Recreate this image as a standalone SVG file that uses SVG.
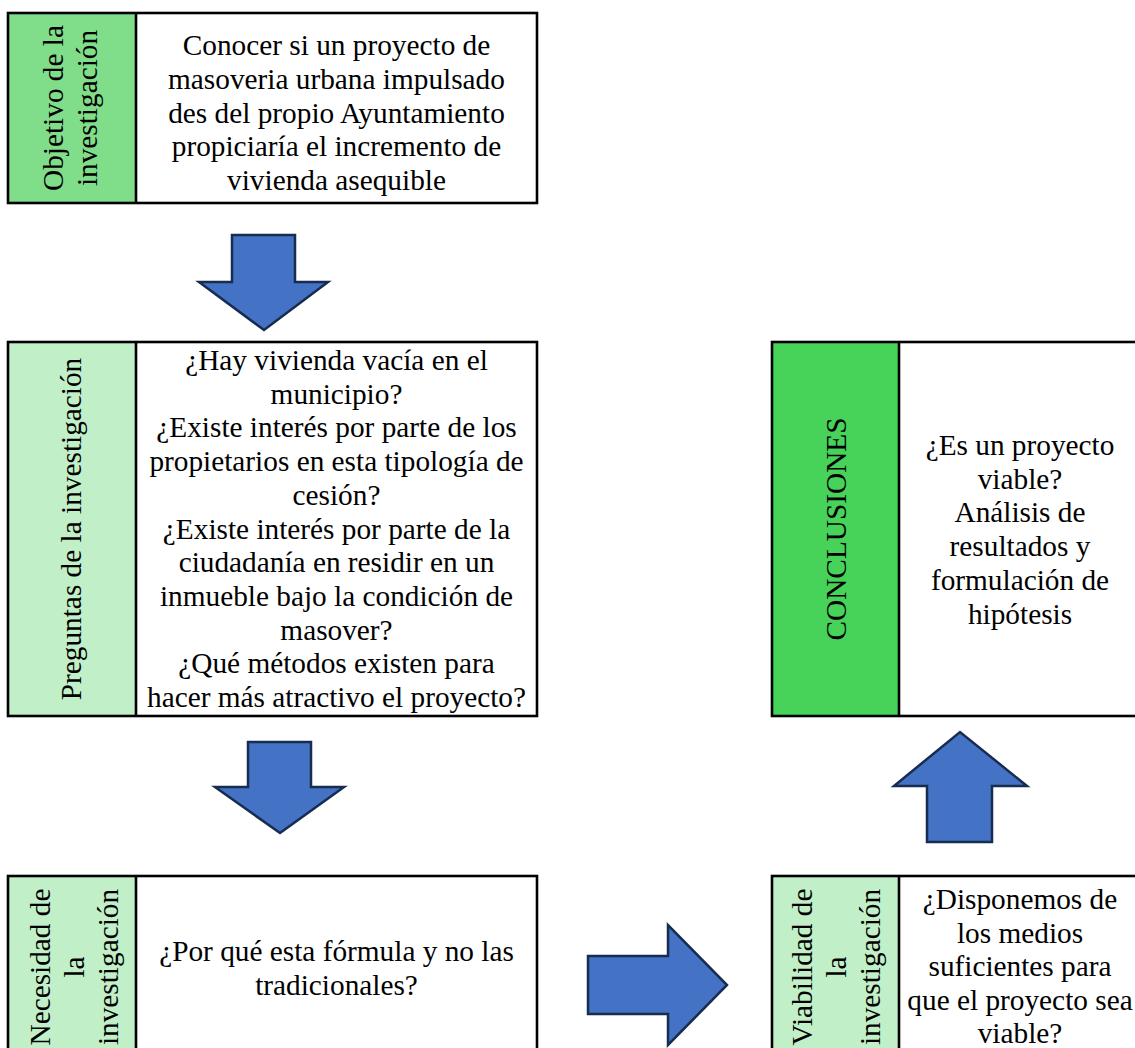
<svg xmlns="http://www.w3.org/2000/svg" width="1135" height="1048" viewBox="0 0 1135 1048">
<style>
.box{fill:none;stroke:#000000;stroke-width:2.6}
.div{stroke:#000000;stroke-width:2.6}
.g1{fill:#80DE8A}
.g2{fill:#C1F0C8}
.g3{fill:#47D35A}
.t{font-size:29.3px;fill:#000000;text-anchor:middle}
.arrow{fill:#4472C4;stroke:#172C51;stroke-width:2.5;stroke-linejoin:miter}
</style>
<rect width="1135" height="1048" fill="#ffffff"/>

<g id="objetivo" font-family="Liberation Serif, Tinos, Times New Roman, Times, DejaVu Serif, Noto Serif, FreeSerif, serif">
<rect class="g1" x="8" y="13" width="128" height="190"/>
<rect class="box" x="8" y="13" width="529" height="190"/>
<line class="div" x1="136" y1="13" x2="136" y2="203"/>
<text class="t" transform="translate(63,108) rotate(-90)">Objetivo de la</text>
<text class="t" transform="translate(97,108) rotate(-90)">investigación</text>
<text class="t" x="336.5" y="55">Conocer si un proyecto de</text>
<text class="t" x="336.5" y="89">masoveria urbana impulsado</text>
<text class="t" x="336.5" y="123">des del propio Ayuntamiento</text>
<text class="t" x="336.5" y="156">propiciaría el incremento de</text>
<text class="t" x="336.5" y="190">vivienda asequible</text>
</g>

<g id="preguntas" font-family="Liberation Serif, Tinos, Times New Roman, Times, DejaVu Serif, Noto Serif, FreeSerif, serif">
<rect class="g2" x="8" y="342" width="128" height="374"/>
<rect class="box" x="8" y="342" width="529" height="374"/>
<line class="div" x1="136" y1="342" x2="136" y2="716"/>
<text class="t" transform="translate(81,529) rotate(-90)">Preguntas de la investigación</text>
<text class="t" x="336.5" y="370">¿Hay vivienda vacía en el</text>
<text class="t" x="336.5" y="403.7">municipio?</text>
<text class="t" x="336.5" y="437.4">¿Existe interés por parte de los</text>
<text class="t" x="336.5" y="471.1">propietarios en esta tipología de</text>
<text class="t" x="336.5" y="504.8">cesión?</text>
<text class="t" x="336.5" y="538.5">¿Existe interés por parte de la</text>
<text class="t" x="336.5" y="572.2">ciudadanía en residir en un</text>
<text class="t" x="336.5" y="605.9">inmueble bajo la condición de</text>
<text class="t" x="336.5" y="639.6">masover?</text>
<text class="t" x="336.5" y="673.3">¿Qué métodos existen para</text>
<text class="t" x="336.5" y="707">hacer más atractivo el proyecto?</text>
</g>

<g id="necesidad" font-family="Liberation Serif, Tinos, Times New Roman, Times, DejaVu Serif, Noto Serif, FreeSerif, serif">
<rect class="g2" x="8" y="876" width="128" height="182"/>
<rect class="box" x="8" y="876" width="529" height="182"/>
<line class="div" x1="136" y1="876" x2="136" y2="1058"/>
<text class="t" transform="translate(50,967) rotate(-90)">Necesidad de</text>
<text class="t" transform="translate(84,967) rotate(-90)">la</text>
<text class="t" transform="translate(118,967) rotate(-90)">investigación</text>
<text class="t" x="336.5" y="961">¿Por qué esta fórmula y no las</text>
<text class="t" x="336.5" y="995">tradicionales?</text>
</g>

<g id="conclusiones" font-family="Liberation Serif, Tinos, Times New Roman, Times, DejaVu Serif, Noto Serif, FreeSerif, serif">
<rect class="g3" x="772" y="342" width="127" height="374"/>
<rect class="box" x="772" y="342" width="370" height="374"/>
<line class="div" x1="899" y1="342" x2="899" y2="716"/>
<text class="t" transform="translate(846,529) rotate(-90)">CONCLUSIONES</text>
<text class="t" x="1020" y="455">¿Es un proyecto</text>
<text class="t" x="1020" y="488.7">viable?</text>
<text class="t" x="1020" y="522.4">Análisis de</text>
<text class="t" x="1020" y="556.1">resultados y</text>
<text class="t" x="1020" y="589.8">formulación de</text>
<text class="t" x="1020" y="623.5">hipótesis</text>
</g>

<g id="viabilidad" font-family="Liberation Serif, Tinos, Times New Roman, Times, DejaVu Serif, Noto Serif, FreeSerif, serif">
<rect class="g2" x="772" y="876" width="127" height="182"/>
<rect class="box" x="772" y="876" width="370" height="182"/>
<line class="div" x1="899" y1="876" x2="899" y2="1058"/>
<text class="t" transform="translate(812,967) rotate(-90)">Viabilidad de</text>
<text class="t" transform="translate(846,967) rotate(-90)">la</text>
<text class="t" transform="translate(880,967) rotate(-90)">investigación</text>
<text class="t" x="1020" y="909">¿Disponemos de</text>
<text class="t" x="1020" y="942.5">los medios</text>
<text class="t" x="1020" y="976">suficientes para</text>
<text class="t" x="1020" y="1009.5">que el proyecto sea</text>
<text class="t" x="1020" y="1043">viable?</text>
</g>

<g id="connectors">
<polygon class="arrow" points="232,235 295,235 295,282 328,282 264,330 199,282 232,282"/>
<polygon class="arrow" points="248,742 311,742 311,787 344,787 280,833 215,787 248,787"/>
<polygon class="arrow" points="588,956 668,956 668,925 727,985 668,1045 668,1014 588,1014"/>
<polygon class="arrow" points="927,842 927,786 894,786 960,732 1027,786 992,786 992,842"/>
</g>
</svg>
